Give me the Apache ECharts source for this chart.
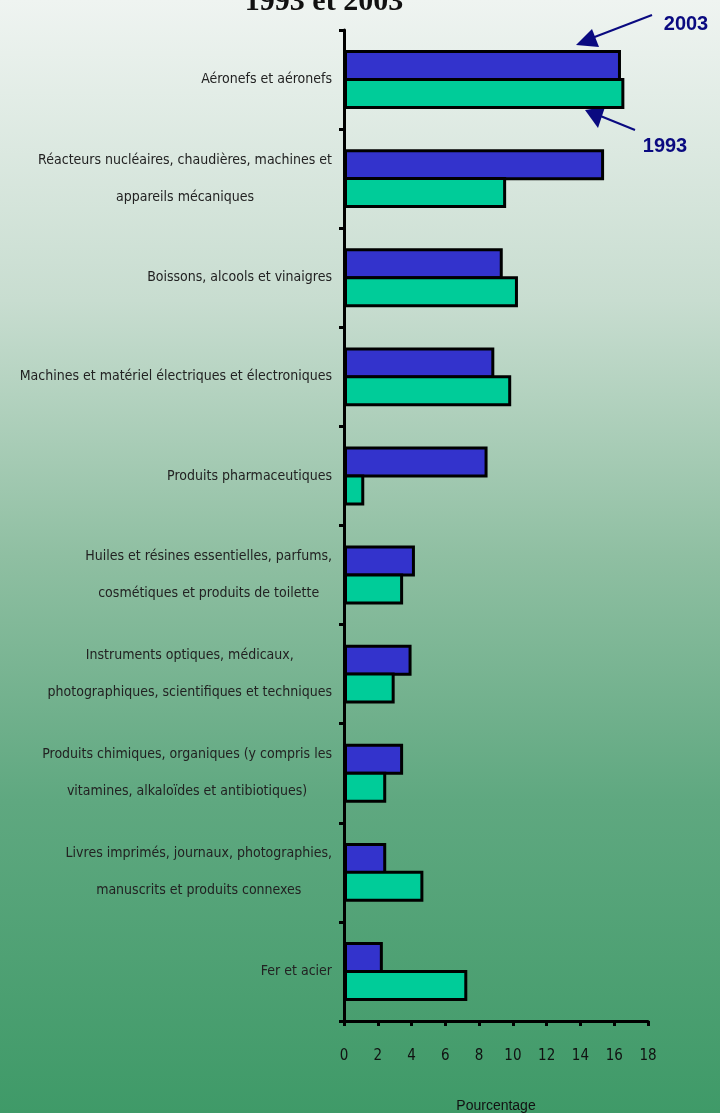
<!DOCTYPE html>
<html>
<head>
<meta charset="utf-8">
<style>
  html, body { margin: 0; padding: 0; }
  #main { width: 720px; height: 1113px; }
</style>
<script src="https://cdn.jsdelivr.net/npm/echarts@6/dist/echarts.min.js"></script>
</head>
<body>
<div id="main"></div>
<script>
// categories, top to bottom
var categories = [
  "Aéronefs et aéronefs",
  "Réacteurs nucléaires, chaudières, machines et\nappareils mécaniques",
  "Boissons, alcools et vinaigres",
  "Machines et matériel électriques et électroniques",
  "Produits pharmaceutiques",
  "Huiles et résines essentielles, parfums,\ncosmétiques et produits de toilette",
  "Instruments optiques, médicaux,\nphotographiques, scientifiques et techniques",
  "Produits chimiques, organiques (y compris les\nvitamines, alkaloïdes et antibiotiques)",
  "Livres imprimés, journaux, photographies,\nmanuscrits et produits connexes",
  "Fer et acier"
];
var values2003 = [16.4, 15.4, 9.4, 8.9, 8.5, 4.2, 4.0, 3.5, 2.5, 2.3];
var values1993 = [16.6, 9.6, 10.3, 9.9, 1.2, 3.5, 3.0, 2.5, 4.7, 7.3];
var xTicks = [0, 18, 2]; // min, max, interval

var labelFont = '"Liberation Sans Narrow", "DejaVu Sans Condensed", "Arial Narrow", sans-serif';
var navy = "#0a0a80";

var myChart = echarts.init(document.getElementById("main"));

var option = {
  backgroundColor: new echarts.graphic.LinearGradient(0, 0, 0, 1, [
    { offset: 0, color: "#eff4f1" },
    { offset: 0.27, color: "#c8ddd0" },
    { offset: 0.5, color: "#8fbfa2" },
    { offset: 0.72, color: "#5fa880" },
    { offset: 1, color: "#3f9a68" }
  ]),
  animation: false,
  grid: { left: 344, right: 72, top: 30, bottom: 92, containLabel: false, outerBoundsMode: "none" },
  xAxis: {
    type: "value",
    min: xTicks[0],
    max: xTicks[1],
    interval: xTicks[2],
    name: "Pourcentage",
    nameLocation: "middle",
    nameGap: 78,
    nameTextStyle: { color: "#111", fontSize: 14, fontFamily: "Liberation Sans, Arial, sans-serif" },
    axisLine: { show: true, lineStyle: { color: "#000", width: 3 } },
    axisTick: { show: true, length: 5, lineStyle: { color: "#000", width: 3 } },
    axisLabel: { color: "#111", fontSize: 15, margin: 28, fontFamily: labelFont },
    splitLine: { show: false }
  },
  yAxis: {
    type: "category",
    data: categories,
    inverse: true,
    axisLine: { show: true, lineStyle: { color: "#000", width: 3 } },
    axisTick: { show: true, length: 5, lineStyle: { color: "#000", width: 3 } },
    axisLabel: {
      margin: 12,
      formatter: function (v) {
        return v.split("\n").map(function (s) { return "{c|" + s + "}"; }).join("\n");
      },
      rich: {
        c: { align: "center", color: "#222", fontSize: 14, lineHeight: 37, fontFamily: labelFont }
      }
    }
  },
  series: [
    {
      name: "2003",
      type: "bar",
      data: values2003,
      barWidth: 31,
      barGap: "-10%",
      itemStyle: { color: "#3333cc", borderColor: "#000", borderWidth: 3 }
    },
    {
      name: "1993",
      type: "bar",
      data: values1993,
      barWidth: 31,
      barGap: "-10%",
      itemStyle: { color: "#00cc99", borderColor: "#000", borderWidth: 3 }
    }
  ],
  graphic: [
    {
      type: "text",
      x: 324,
      y: -13,
      style: {
        text: "1993 et 2003",
        font: "bold 30px 'Liberation Serif', 'Times New Roman', serif",
        fill: "#111",
        align: "center"
      }
    },
    // annotations
    { type: "text", x: 686, y: 24, style: { text: "2003", font: "bold 20px 'Liberation Sans', Arial, sans-serif", fill: navy, align: "center", verticalAlign: "middle" } },
    { type: "text", x: 665, y: 146, style: { text: "1993", font: "bold 20px 'Liberation Sans', Arial, sans-serif", fill: navy, align: "center", verticalAlign: "middle" } },
    { type: "line", shape: { x1: 652, y1: 15, x2: 592, y2: 38 }, style: { stroke: navy, lineWidth: 2 } },
    { type: "polygon", shape: { points: [[576, 45], [592, 29], [599, 47]] }, style: { fill: navy } },
    { type: "line", shape: { x1: 635, y1: 130, x2: 598, y2: 115 }, style: { stroke: navy, lineWidth: 2 } },
    { type: "polygon", shape: { points: [[585, 110], [605, 107], [598, 128]] }, style: { fill: navy } }
  ]
};

myChart.setOption(option);
</script>
</body>
</html>
